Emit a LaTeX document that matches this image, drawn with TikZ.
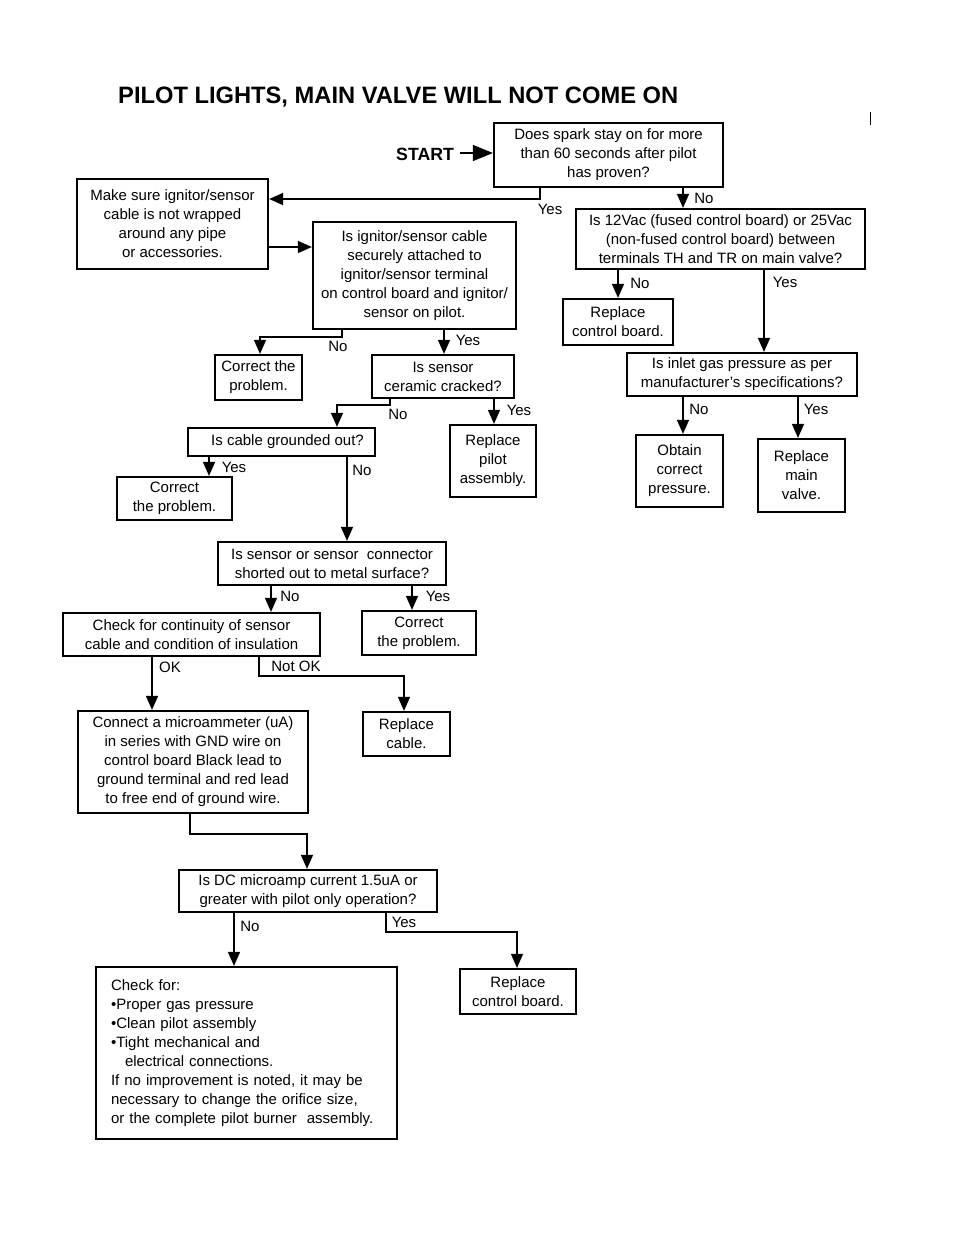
\documentclass[tikz,border=0pt]{standalone}
\usepackage{fontspec}
\setmainfont{Liberation Sans}
\usetikzlibrary{arrows.meta}
\newcommand{\bodyfnt}{\fontsize{15}{19}\selectfont}
\begin{document}
\begin{tikzpicture}[x=1pt,y=-1pt,
  box/.style={draw, line width=2.2pt, inner sep=0pt, align=center, font=\bodyfnt},
  arr/.style={line width=1.3pt, -{Triangle[length=14pt,width=12pt]}},
  lbl/.style={inner sep=0pt, font=\bodyfnt}]
\useasboundingbox (0,0) rectangle (954,1235);
\fill[white] (0,0) rectangle (954,1235);

% title and start
\node[anchor=base west, inner sep=0pt, font=\fontsize{23.7}{28}\selectfont\bfseries] (title) at (118,103) {PILOT LIGHTS, MAIN VALVE WILL NOT COME ON};
\node[anchor=base west, inner sep=0pt, font=\fontsize{17.7}{20}\selectfont\bfseries] (start) at (396,160) {START};
\draw[line width=1pt] (870,112) -- (870,125);

% boxes
\node[box, minimum width=229pt, minimum height=64pt] (spark) at (608.5,155) {Does spark stay on for more\\than 60 seconds after pilot\\has proven?};
\node[box, minimum width=191pt, minimum height=90pt] (make) at (172.5,224) {Make sure ignitor/sensor\\cable is not wrapped\\around any pipe\\or accessories.};
\node[box, minimum width=203pt, minimum height=107pt] (ign) at (414.5,275.5) {Is ignitor/sensor cable\\securely attached to\\ignitor/sensor terminal\\on control board and ignitor/\\sensor on pilot.};
\node[box, minimum width=289pt, minimum height=60pt] (v12) at (720.5,239) {Is 12Vac (fused control board) or 25Vac\\(non-fused control board) between\\terminals TH and TR on main valve?};
\node[box, minimum width=110pt, minimum height=46pt] (rcb1) at (618,322) {Replace\\control board.};
\node[box, minimum width=87pt, minimum height=45pt] (cor1) at (258.5,377.5) {Correct the\\problem.};
\node[box, minimum width=142pt, minimum height=43pt] (cer) at (443,376.5) {Is sensor\\ceramic cracked?};
\node[box, minimum width=86pt, minimum height=72pt] (rpa) at (493,461) {Replace\\pilot\\assembly.};
\node[box, minimum width=187pt, minimum height=28pt] (gnd) at (281.5,442) {\hspace*{12pt}Is cable grounded out?};
\node[box, minimum width=115pt, minimum height=43pt] (cor2) at (174.5,498.5) {Correct\\the problem.};
\node[box, minimum width=230pt, minimum height=43pt] (inl) at (742,374.5) {Is inlet gas pressure as per\\manufacturer's specifications?};
\node[box, minimum width=87pt, minimum height=72pt] (obt) at (679.5,471) {Obtain\\correct\\pressure.};
\node[box, minimum width=87pt, minimum height=73pt] (rmv) at (801.5,475.5) {Replace\\main\\valve.};
\node[box, minimum width=228pt, minimum height=43pt] (sho) at (332,563.5) {Is sensor or sensor\ \ connector\\shorted out to metal surface?};
\node[box, minimum width=257pt, minimum height=43pt] (con) at (191.5,634.5) {Check for continuity of sensor\\cable and condition of insulation};
\node[box, minimum width=114pt, minimum height=44pt] (cor3) at (419,633) {Correct\\the problem.};
\node[box, minimum width=87pt, minimum height=44pt] (rcab) at (406.5,734) {Replace\\cable.};
\node[box, minimum width=230pt, minimum height=102pt] (mic) at (193,762) {Connect a microammeter (uA)\\in series with GND wire on\\control board Black lead to\\ground terminal and red lead\\to free end of ground wire.};
\node[box, minimum width=258pt, minimum height=42pt] (dc) at (308,891) {Is DC microamp current 1.5uA or\\greater with pilot only operation?};
\node[box, align=left, text width=271pt, inner xsep=15pt, minimum height=172pt] (chk) at (246.5,1053) {Check for:\\•Proper gas pressure\\•Clean pilot assembly\\•Tight mechanical and\\\hspace*{14pt}electrical connections.\\If no improvement is noted, it may be\\necessary to change the orifice size,\\or the complete pilot burner\ \ assembly.};
\node[box, minimum width=116pt, minimum height=45pt] (rcb2) at (518,991.5) {Replace\\control board.};

% bend / guide coordinates
\coordinate (b1) at (540,199);
\coordinate (b2) at (683,0);
\coordinate (b3) at (0,247);
\coordinate (b4) at (342,337);
\coordinate (b5) at (260,337);
\coordinate (b6) at (444,0);
\coordinate (b7) at (618,0);
\coordinate (b8) at (764,0);
\coordinate (b9) at (390,405);
\coordinate (b10) at (337,405);
\coordinate (b11) at (494,0);
\coordinate (b12) at (683,0);
\coordinate (b13) at (798,0);
\coordinate (b14) at (209,0);
\coordinate (b15) at (347,0);
\coordinate (b16) at (271,0);
\coordinate (b17) at (412,0);
\coordinate (b18) at (152,0);
\coordinate (b19) at (259,676);
\coordinate (b20) at (404,676);
\coordinate (b21) at (190,834);
\coordinate (b22) at (307,834);
\coordinate (b23) at (234,0);
\coordinate (b24) at (386,932);
\coordinate (b25) at (517,932);

% connectors
\draw[line width=1.3pt, -{Triangle[length=20pt,width=16pt]}] (start.east |- spark.west) ++(6,-2) coordinate (s0) (s0) -- (s0 -| spark.west);
\draw[arr] (spark.south -| b1) -- (b1) -- (make.east |- b1);
\draw[arr] (spark.south -| b2) -- (v12.north -| b2);
\draw[arr] (make.east |- b3) -- (ign.west |- b3);
\draw[arr] (ign.south -| b4) -- (b4) -- (b5) -- (cor1.north -| b5);
\draw[arr] (ign.south -| b6) -- (cer.north -| b6);
\draw[arr] (v12.south -| b7) -- (rcb1.north -| b7);
\draw[arr] (v12.south -| b8) -- (inl.north -| b8);
\draw[arr] (cer.south -| b9) -- (b9) -- (b10) -- (gnd.north -| b10);
\draw[arr] (cer.south -| b11) -- (rpa.north -| b11);
\draw[arr] (inl.south -| b12) -- (obt.north -| b12);
\draw[arr] (inl.south -| b13) -- (rmv.north -| b13);
\draw[arr] (gnd.south -| b14) -- (cor2.north -| b14);
\draw[arr] (gnd.south -| b15) -- (sho.north -| b15);
\draw[arr] (sho.south -| b16) -- (con.north -| b16);
\draw[arr] (sho.south -| b17) -- (cor3.north -| b17);
\draw[arr] (con.south -| b18) -- (mic.north -| b18);
\draw[arr] (con.south -| b19) -- (b19) -- (b20) -- (rcab.north -| b20);
\draw[arr] (mic.south -| b21) -- (b21) -- (b22) -- (dc.north -| b22);
\draw[arr] (dc.south -| b23) -- (chk.north -| b23);
\draw[arr] (dc.south -| b24) -- (b24) -- (b25) -- (rcb2.north -| b25);

% labels
\node[lbl] (l1) at (550,209) {Yes};
\node[lbl] (l2) at (704,198) {No};
\node[lbl] (l3) at (338,346) {No};
\node[lbl] (l4) at (468,340) {Yes};
\node[lbl] (l5) at (640,283) {No};
\node[lbl] (l6) at (785,282) {Yes};
\node[lbl] (l7) at (398,414) {No};
\node[lbl] (l8) at (519,410) {Yes};
\node[lbl] (l9) at (699,409) {No};
\node[lbl] (l10) at (816,409) {Yes};
\node[lbl] (l11) at (234,467) {Yes};
\node[lbl] (l12) at (362,470) {No};
\node[lbl] (l13) at (290,596) {No};
\node[lbl] (l14) at (438,596) {Yes};
\node[lbl] (l15) at (170,667) {OK};
\node[lbl] (l16) at (296,666) {Not OK};
\node[lbl] (l17) at (250,926) {No};
\node[lbl] (l18) at (404,922) {Yes};
\end{tikzpicture}
\end{document}
